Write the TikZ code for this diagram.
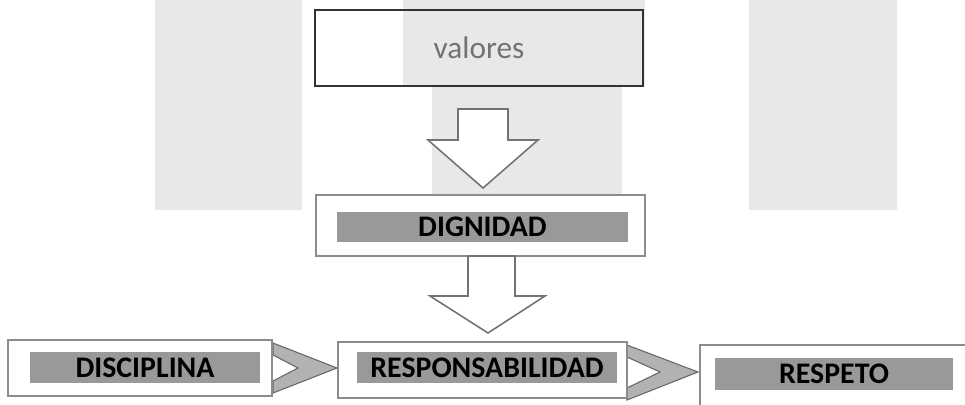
\documentclass[tikz,border=0pt]{standalone}
\usepackage{fontspec}
\setmainfont{Carlito}
\begin{document}
\begin{tikzpicture}[x=0.2mm, y=-0.2mm,
		outer box/.style={draw=black!45, line width=1.5pt},
		band/.style={fill=black!40, inner sep=0pt, font=\bfseries\fontsize{17}{20}\selectfont},
		bigarrow/.style={draw=black!55, line width=0.9pt, fill=white, line join=miter},
		chevron/.style={draw=black!60, line width=0.6pt, fill=black!30, line join=miter}]
		\useasboundingbox (0,0) rectangle (965,404);
		\clip (0,0) rectangle (965,404);
		% Background
		\fill[black!9] (155,0) rectangle (302,210);
		\fill[black!9] (749,0) rectangle (897,210);
		\fill[black!9] (403,0) rectangle (645,86);
		\fill[black!9] (432,86) rectangle (622,196);
		% Top box
		\node[draw=black!80, line width=0.8pt, minimum width=65.6mm, minimum height=15.2mm, text=black!55, font=\fontsize{17.8}{20}\selectfont] (valores) at (479,48) {valores};
		\draw[bigarrow] (458,109) -- (508,109) -- (508,140) -- (538,140) -- (483,188) -- (428,140) -- (458,140) -- cycle;
		% Middle box
		\node[outer box, minimum width=65.8mm, minimum height=12.2mm] (dignidadbox) at (480.5,225.5) {};
		\node[band, minimum width=58.2mm, minimum height=6mm] (dignidad) at (482.5,227) {DIGNIDAD};
		\draw[bigarrow] (468,256) -- (515,256) -- (515,296) -- (545,296) -- (488,333) -- (430,296) -- (468,296) -- cycle;
		% Bottom row
		\draw[chevron] (273,343) -- (337,368) -- (273,393) -- (273,381) -- (298,368) -- (273,355) -- cycle;
		\draw[chevron] (627,345) -- (698,372) -- (627,400) -- (627,388) -- (660,372) -- (627,357) -- cycle;
		\node[outer box, minimum width=52.8mm, minimum height=11.2mm] (disciplinabox) at (140,368) {};
		\node[band, minimum width=46mm, minimum height=6.2mm] (disciplina) at (145,367.5) {DISCIPLINA};
		\node[outer box, minimum width=57.8mm, minimum height=11.2mm] (responsabilidadbox) at (482.5,370) {};
		\node[band, minimum width=52mm, minimum height=6.2mm] (responsabilidad) at (487,367.5) {RESPONSABILIDAD};
		\node[outer box, minimum width=54mm, minimum height=14mm] (respetobox) at (835,380) {};
		\node[band, minimum width=47.6mm, minimum height=6.4mm] (respeto) at (834,374) {RESPETO};
	\end{tikzpicture}
\end{document}
